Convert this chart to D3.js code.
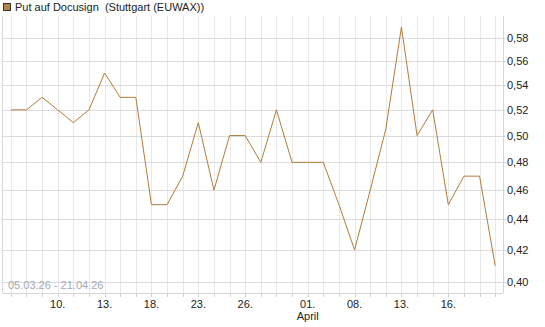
<!DOCTYPE html>
<html>
<head>
<meta charset="utf-8">
<script src="https://cdn.jsdelivr.net/npm/d3@7"></script>
<style>
  body { margin: 0; background: #fff; }
  svg { display: block; font-family: "Liberation Sans", Arial, sans-serif; }
</style>
</head>
<body>
<script>
// Handelstage (ohne Wochenenden / Ostern)
var dates = ["05.03","06.03","09.03","10.03","11.03","12.03","13.03","16.03","17.03","18.03",
             "19.03","20.03","23.03","24.03","25.03","26.03","27.03","30.03","31.03","01.04",
             "02.04","07.04","08.04","09.04","10.04","13.04","14.04","15.04","16.04","17.04",
             "20.04","21.04"];
var values = [0.52,0.52,0.53,0.52,0.51,0.52,0.55,0.53,0.53,0.45,
              0.45,0.47,0.51,0.46,0.50,0.50,0.48,0.52,0.48,0.48,
              0.48,0.45,0.42,0.46,0.505,0.59,0.50,0.52,0.45,0.47,
              0.47,0.41];
var xTickDates = ["10.03","13.03","18.03","23.03","26.03","01.04","08.04","13.04","16.04"];
var yTicks = [0.40,0.42,0.44,0.46,0.48,0.50,0.52,0.54,0.56,0.58];
var title = "Put auf Docusign  (Stuttgart (EUWAX))";
var rangeText = "05.03.26 - 21.04.26";

var W = 545, H = 327;
var plot = {left: 3, right: 503, top: 16, bottom: 293};
var lineColor = "#b07d3a";

var svg = d3.select("body").append("svg")
    .attr("width", W).attr("height", H);

var x = d3.scaleLinear()
    .domain([-0.5, dates.length - 0.5])
    .range([plot.left, plot.right]);

var y = d3.scaleLog()
    .domain([0.3933, 0.600])
    .range([plot.bottom, plot.top]);

// vertikale Gitterlinien (jeder Handelstag)
svg.append("g").selectAll("line").data(dates).enter().append("line")
    .attr("x1", function(d, i) { return Math.round(x(i)) + 0.5; })
    .attr("x2", function(d, i) { return Math.round(x(i)) + 0.5; })
    .attr("y1", plot.top)
    .attr("y2", plot.bottom + 4)
    .attr("stroke", "#e8e8e8");

// kleine Ticks unter der Achse
svg.append("g").selectAll("line").data(dates).enter().append("line")
    .attr("x1", function(d, i) { return Math.round(x(i)) + 0.5; })
    .attr("x2", function(d, i) { return Math.round(x(i)) + 0.5; })
    .attr("y1", plot.bottom)
    .attr("y2", plot.bottom + 4)
    .attr("stroke", "#d0d0d0");

// horizontale Gitterlinien
svg.append("g").selectAll("line").data(yTicks).enter().append("line")
    .attr("x1", plot.left)
    .attr("x2", plot.right + 3)
    .attr("y1", function(d) { return Math.round(y(d)) + 0.5; })
    .attr("y2", function(d) { return Math.round(y(d)) + 0.5; })
    .attr("stroke", "#dcdcdc");

// Rahmen links, rechts, unten
svg.append("line").attr("x1", plot.left - 0.5).attr("x2", plot.left - 0.5)
    .attr("y1", plot.top).attr("y2", plot.bottom).attr("stroke", "#d6d6d6");
svg.append("line").attr("x1", plot.right + 0.5).attr("x2", plot.right + 0.5)
    .attr("y1", plot.top).attr("y2", plot.bottom).attr("stroke", "#d6d6d6");
svg.append("line").attr("x1", plot.left).attr("x2", plot.right)
    .attr("y1", plot.bottom + 0.5).attr("y2", plot.bottom + 0.5).attr("stroke", "#d6d6d6");

// y-Achse rechts
svg.append("g").selectAll("text").data(yTicks).enter().append("text")
    .attr("x", plot.right + 4)
    .attr("y", function(d) { return y(d) + 4; })
    .attr("font-size", "11px")
    .attr("fill", "#222")
    .text(function(d) { return d.toFixed(2).replace(".", ","); });

// x-Achse
var xt = svg.append("g");
xTickDates.forEach(function(d) {
    var i = dates.indexOf(d);
    var parts = d.split(".");
    xt.append("text")
        .attr("x", x(i))
        .attr("y", plot.bottom + 15)
        .attr("text-anchor", "middle")
        .attr("font-size", "11px")
        .attr("fill", "#222")
        .text(parts[0] + ".");
    if (parts[0] == "01") {
        xt.append("text")
            .attr("x", x(i))
            .attr("y", plot.bottom + 27)
            .attr("text-anchor", "middle")
            .attr("font-size", "11px")
            .attr("fill", "#222")
            .text("April");
    }
});

// Zeitraum
svg.append("text")
    .attr("x", 8).attr("y", plot.bottom - 4)
    .attr("font-size", "11px")
    .attr("fill", "#a3a9b4")
    .text(rangeText);

// Kurslinie
var line = d3.line()
    .x(function(d, i) { return x(i); })
    .y(function(d) { return y(d); })
    .curve(d3.curveLinear);
svg.append("path")
    .attr("d", line(values))
    .attr("fill", "none")
    .attr("stroke", lineColor)
    .attr("stroke-width", 1);

// Legende
svg.append("rect")
    .attr("x", 3.5).attr("y", 3.5).attr("width", 7).attr("height", 7)
    .attr("fill", "#b5843f").attr("stroke", "#333").attr("stroke-width", 1);
svg.append("text")
    .attr("x", 15).attr("y", 11)
    .attr("font-size", "11px")
    .attr("fill", "#222")
    .attr("xml:space", "preserve")
    .style("white-space", "pre")
    .text(title);
</script>
</body>
</html>
